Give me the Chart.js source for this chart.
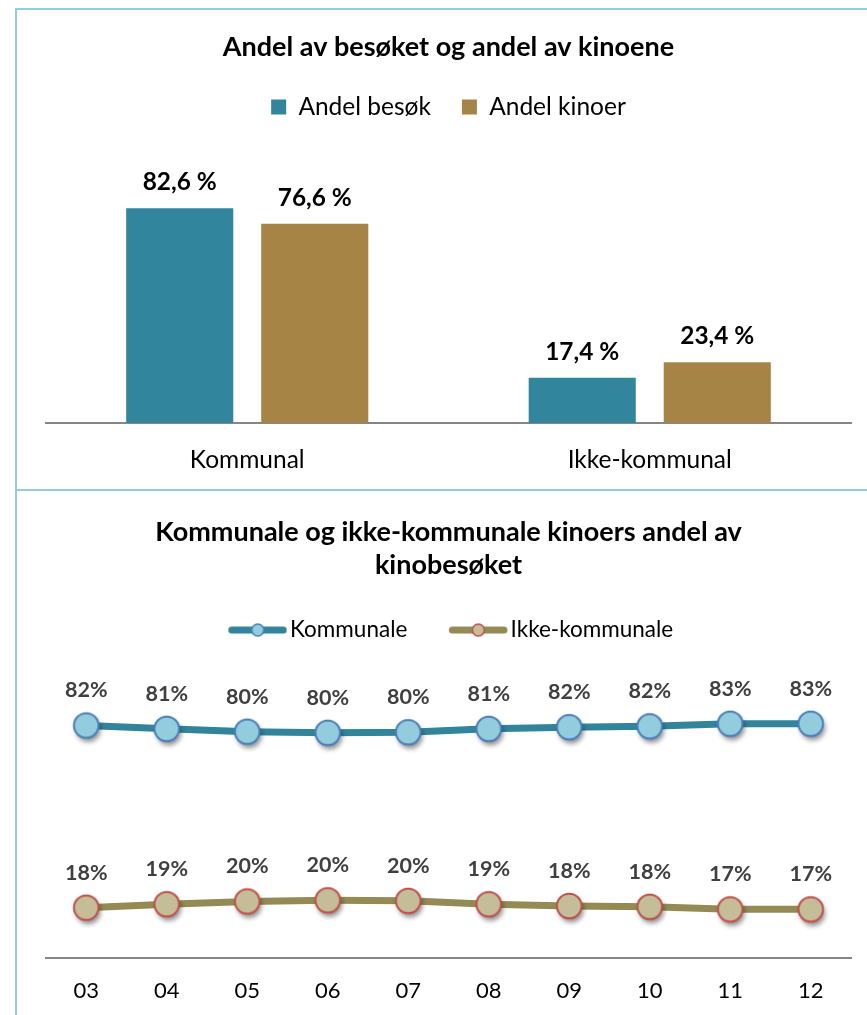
<!DOCTYPE html>
<html>
<head>
<meta charset="utf-8">
<script src="https://cdn.jsdelivr.net/npm/chart.js@4/dist/chart.umd.min.js"></script>
<style>
  body { margin: 0; width: 867px; height: 1015px; overflow: hidden; background: #fff; position: relative; }
  .box { position: absolute; left: 15px; width: 863px; border: 2px solid #93cddd; }
  #box1 { top: 8px; height: 479px; }
  #box2 { top: 491px; height: 524px; border-top: none; border-bottom: none; }
  canvas { display: block; }
</style>
</head>
<body>
<div id="box1" class="box"><canvas id="barChart" width="863" height="479"></canvas></div>
<div id="box2" class="box"><canvas id="lineChart" width="863" height="524"></canvas></div>
<script>
// Data - andel besøk / kinoer
const barCategories = ['Kommunal', 'Ikke-kommunal'];
const andelBesok = [82.6, 17.4];
const andelKinoer = [76.6, 23.4];

// Data - utvikling per år
const years = ['03', '04', '05', '06', '07', '08', '09', '10', '11', '12'];
const kommunale = [82.2, 81.0, 80.0, 79.6, 79.8, 81.0, 81.6, 81.9, 82.8, 82.8];
const ikkeKommunale = [17.8, 19.0, 20.0, 20.4, 20.2, 19.0, 18.4, 18.1, 17.2, 17.2];

const FONT = 'Lato, "Open Sans", sans-serif';
Chart.defaults.font.family = FONT;
Chart.defaults.color = '#000';

// Ekstra luft under legenden
function legendSpace(extra) {
    return {
        id: 'legendSpace',
        beforeInit(chart) {
            const fit = chart.legend.fit;
            chart.legend.fit = function() {
                fit.call(this);
                this.height += extra;
            };
        }
    };
}

// Verdietiketter over søyler / punkter
function valueLabels(font, color, offset, format) {
    return {
        id: 'valueLabels',
        afterDatasetsDraw(chart) {
            const ctx = chart.ctx;
            ctx.save();
            ctx.font = font;
            ctx.fillStyle = color;
            ctx.textAlign = 'center';
            ctx.textBaseline = 'middle';
            chart.data.datasets.forEach((ds, i) => {
                chart.getDatasetMeta(i).data.forEach((el, j) => {
                    ctx.fillText(format(ds.data[j]), el.x, el.y - offset);
                });
            });
            ctx.restore();
        }
    };
}

// Markør med skygge
function makeMarker(fill, stroke) {
    const c = document.createElement('canvas');
    c.width = 46; c.height = 46;
    const g = c.getContext('2d');
    g.beginPath();
    g.arc(23, 23, 12.3, 0, Math.PI * 2);
    g.shadowColor = 'rgba(0,0,0,0.45)';
    g.shadowBlur = 5;
    g.shadowOffsetX = 2;
    g.shadowOffsetY = 4;
    g.fillStyle = fill;
    g.fill();
    g.shadowColor = 'transparent';
    g.lineWidth = 2;
    g.strokeStyle = stroke;
    g.stroke();
    return c;
}

// Legendesymbol: linje med sirkel
function makeLegendIcon(line, fill, stroke) {
    const c = document.createElement('canvas');
    c.width = 72; c.height = 16;
    const g = c.getContext('2d');
    g.lineCap = 'round';
    g.lineWidth = 7;
    g.strokeStyle = line;
    g.beginPath();
    g.moveTo(16.5, 8);
    g.lineTo(68, 8);
    g.stroke();
    g.beginPath();
    g.arc(42.5, 8, 6, 0, Math.PI * 2);
    g.fillStyle = fill;
    g.fill();
    g.lineWidth = 1.5;
    g.strokeStyle = stroke;
    g.stroke();
    return c;
}

const legendIcons = [
    makeLegendIcon('#31849b', '#93cddd', '#4a7ebb'),
    makeLegendIcon('#948a54', '#c4bd97', '#c0504d')
];

// Søylediagram
new Chart(document.getElementById('barChart'), {
    type: 'bar',
    data: {
        labels: barCategories,
        datasets: [
            { label: 'Andel besøk', data: andelBesok, backgroundColor: '#31859c' },
            { label: 'Andel kinoer', data: andelKinoer, backgroundColor: '#a68445' }
        ]
    },
    options: {
        responsive: false,
        animation: false,
        categoryPercentage: 0.671,
        barPercentage: 0.793,
        layout: { padding: { left: 29, right: 29, top: 0, bottom: 0 } },
        scales: {
            x: {
                grid: { display: false, drawTicks: false },
                border: { color: '#868686', width: 2 },
                ticks: { color: '#000', font: { size: 24.5 }, padding: 22.3 },
                afterFit: s => { s.height -= 8; }
            },
            y: { display: false, min: 0, max: 100 }
        },
        plugins: {
            title: {
                display: true,
                text: 'Andel av besøket og andel av kinoene',
                color: '#000',
                font: { size: 27, weight: 'bold' },
                padding: { top: 20.8, bottom: 0.5 }
            },
            legend: {
                labels: { boxWidth: 15, boxHeight: 15, padding: 31, color: '#000', font: { size: 24.5 } }
            },
            tooltip: { enabled: false }
        }
    },
    plugins: [
        legendSpace(33.8),
        valueLabels('bold 24.4px ' + FONT, '#000', 26,
            v => v.toFixed(1).replace('.', ',') + ' %')
    ]
});

// Linjediagram
new Chart(document.getElementById('lineChart'), {
    type: 'line',
    data: {
        labels: years,
        datasets: [
            {
                label: 'Kommunale',
                data: kommunale,
                borderColor: '#31849b',
                borderWidth: 7,
                tension: 0,
                pointStyle: makeMarker('#93cddd', '#4a7ebb'),
                pointRadius: 12
            },
            {
                label: 'Ikke-kommunale',
                data: ikkeKommunale,
                borderColor: '#948a54',
                borderWidth: 7,
                tension: 0,
                pointStyle: makeMarker('#c4bd97', '#c0504d'),
                pointRadius: 12
            }
        ]
    },
    options: {
        responsive: false,
        animation: false,
        layout: { padding: { left: 29, right: 29, top: 0, bottom: 0 } },
        scales: {
            x: {
                offset: true,
                grid: { display: false, drawTicks: false },
                border: { color: '#868686', width: 2 },
                ticks: { color: '#000', font: { size: 22 }, padding: 19.8 },
                afterFit: s => { s.height -= 9; }
            },
            y: { display: false, min: 0, max: 100 }
        },
        plugins: {
            title: {
                display: true,
                text: ['Kommunale og ikke-kommunale kinoers andel av', 'kinobesøket'],
                color: '#000',
                font: { size: 27, weight: 'bold', lineHeight: 1.222 },
                padding: { top: 24.5, bottom: 0.3 }
            },
            legend: {
                labels: {
                    usePointStyle: true,
                    pointStyleWidth: 55,
                    padding: 37,
                    color: '#000',
                    font: { size: 22.5 },
                    generateLabels: chart => Chart.defaults.plugins.legend.labels.generateLabels(chart)
                        .map((item, i) => Object.assign(item, { pointStyle: legendIcons[i] }))
                }
            },
            tooltip: { enabled: false }
        }
    },
    plugins: [
        legendSpace(23.8),
        valueLabels('bold 21.5px ' + FONT, '#404040', 35,
            v => Math.round(v) + '%')
    ]
});
</script>
</body>
</html>
